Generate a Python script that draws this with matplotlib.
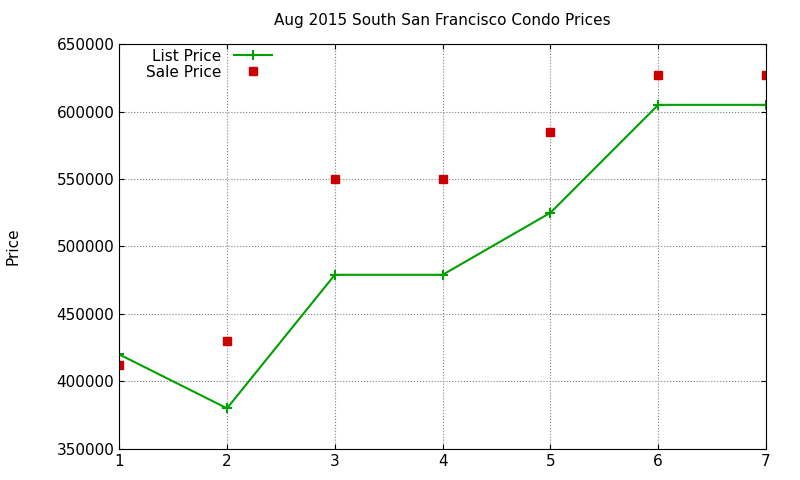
import matplotlib
matplotlib.use('Agg')
import matplotlib.pyplot as plt

months = [1, 2, 3, 4, 5, 6, 7]
list_price = [420000, 380000, 479000, 479000, 525000, 605000, 605000]
sale_price = [412000, 430000, 550000, 550000, 585000, 627000, 627000]

fig = plt.figure(figsize=(8, 4.8), dpi=100)
ax = fig.add_axes([0.149, 0.065, 0.8085, 0.843])
ax.plot(months, list_price, color='#00a000', marker='+', ms=7, mew=1.5, lw=1.5, label='List Price')
ax.plot(months, sale_price, ls='none', marker='s', ms=6, color='#cc0000', label='Sale Price')
ax.set_xlim(1, 7)
ax.set_ylim(350000, 650000)
ax.set_xticks(months)
ax.set_yticks(range(350000, 650001, 50000))
ax.grid(True, color='gray', ls=':', lw=0.8)
ax.tick_params(direction='in', top=True, right=True, labelsize=11)
ax.set_title('Aug 2015 South San Francisco Condo Prices', fontsize=11, pad=14)
ax.set_ylabel('Price', fontsize=11, labelpad=26)
ax.legend(loc='upper left', bbox_to_anchor=(0.025, 1.015), frameon=False, markerfirst=False,
          fontsize=11, handlelength=2.5, borderpad=0.2, labelspacing=0.05)
fig.savefig('out.png')
